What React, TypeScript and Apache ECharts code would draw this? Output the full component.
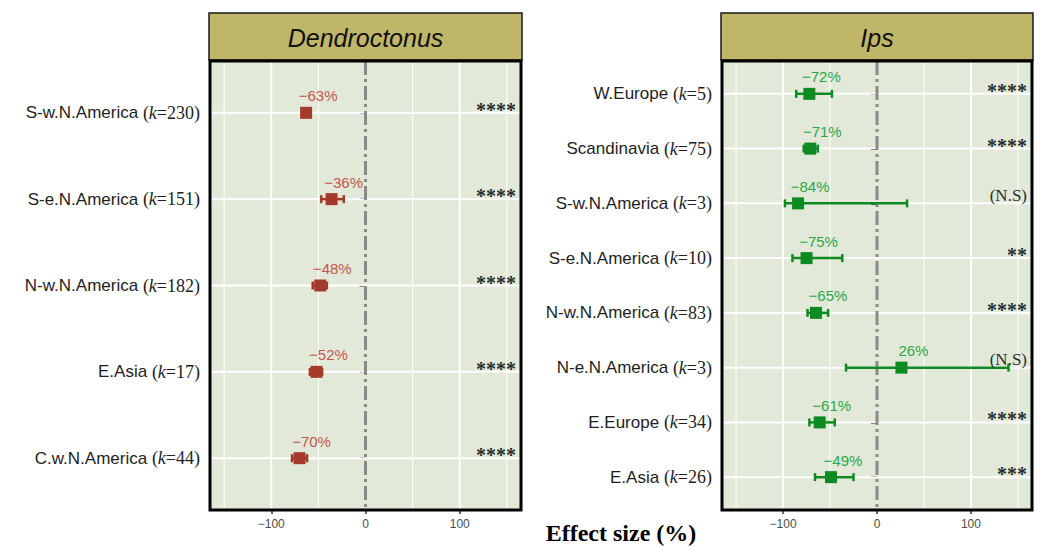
import React, { useEffect, useRef } from 'react';
import * as echarts from 'echarts';

// ---- Data ----
const dendroRegions = ['S-w.N.America', 'S-e.N.America', 'N-w.N.America', 'E.Asia', 'C.w.N.America'];
const dendroK = [230, 151, 182, 17, 44];
const dendroMean = [-63, -36, -48, -52, -70];
const dendroLower = [-66, -47, -56, -59, -78];
const dendroUpper = [-60, -23, -41, -46, -62];
const dendroSig = ['****', '****', '****', '****', '****'];

const ipsRegions = ['W.Europe', 'Scandinavia', 'S-w.N.America', 'S-e.N.America', 'N-w.N.America', 'N-e.N.America', 'E.Europe', 'E.Asia'];
const ipsK = [5, 75, 3, 10, 83, 3, 34, 26];
const ipsMean = [-72, -71, -84, -75, -65, 26, -61, -49];
const ipsLower = [-86, -78, -98, -90, -74, -33, -72, -66];
const ipsUpper = [-48, -63, 32, -37, -52, 140, -45, -25];
const ipsSig = ['****', '****', '(N.S)', '**', '****', '(N.S)', '****', '***'];

const xTickValues = [-100, 0, 100];
const xMinorValues = [-150, -50, 50, 150];
const X_MIN = -165;
const X_MAX = 165;

const panelTitles = ['Dendroctonus', 'Ips'];
const axisTitle = 'Effect size (%)';

// ---- Layout ----
const GRIDS = [
  { left: 210, top: 61, width: 311, height: 449 },
  { left: 722, top: 61, width: 310, height: 449 },
];
const HEADER_TOP = 13;
const HEADER_H = 47;

const fmtPct = (v: number) => (v < 0 ? '\u2212' + Math.abs(v) : String(v)) + '%';
const fmtTick = (v: number) => (v < 0 ? '\u2212' + Math.abs(v) : String(v));

function buildPanel(
  idx: number,
  regions: string[],
  ks: number[],
  mean: number[],
  lower: number[],
  upper: number[],
  sig: string[],
  markerColor: string,
  labelColor: string
) {
  const n = regions.length;
  const positions = regions.map((_, i) => i + 1);
  const xAxis = {
    type: 'value',
    gridIndex: idx,
    min: X_MIN,
    max: X_MAX,
    axisLine: { show: false },
    splitLine: { show: false },
    axisTick: {
      show: true,
      customValues: xTickValues,
      length: 4,
      lineStyle: { color: '#333', width: 1.5 },
    },
    axisLabel: {
      customValues: xTickValues,
      formatter: (v: number) => fmtTick(v),
      fontFamily: 'Liberation Sans',
      fontSize: 12,
      color: '#4d4d4d',
      margin: 8,
    },
  };
  const yAxis = {
    type: 'value',
    gridIndex: idx,
    min: 0.4,
    max: n + 0.6,
    inverse: true,
    axisLine: { show: false },
    splitLine: { show: false },
    axisTick: {
      show: true,
      customValues: positions,
      length: 6,
      lineStyle: { color: '#111', width: 2 },
    },
    axisLabel: {
      customValues: positions,
      margin: 10,
      formatter: (v: number) => {
        const i = Math.round(v) - 1;
        if (i < 0 || i >= n) return '';
        return `{r|${regions[i]} }{p|(}{k|k}{p|=${ks[i]})}`;
      },
      rich: {
        r: { fontFamily: 'Liberation Sans', fontSize: 17, color: '#1e1e1e' },
        p: { fontFamily: 'Liberation Serif', fontSize: 18, color: '#1e1e1e' },
        k: { fontFamily: 'Liberation Serif', fontSize: 18, fontStyle: 'italic', color: '#1e1e1e' },
      },
    },
  };

  const gridSeries = {
    type: 'custom',
    xAxisIndex: idx,
    yAxisIndex: idx,
    z: 1,
    silent: true,
    clip: true,
    data: [[0, 1]],
    renderItem: (params: any, api: any) => {
      const cs = params.coordSys;
      const children: any[] = [];
      xMinorValues.forEach((v) => {
        const x = api.coord([v, 1])[0];
        children.push({
          type: 'line',
          shape: { x1: x, y1: cs.y, x2: x, y2: cs.y + cs.height },
          style: { stroke: '#ffffff', lineWidth: 1 },
        });
      });
      xTickValues.forEach((v) => {
        if (v === 0) return;
        const x = api.coord([v, 1])[0];
        children.push({
          type: 'line',
          shape: { x1: x, y1: cs.y, x2: x, y2: cs.y + cs.height },
          style: { stroke: '#ffffff', lineWidth: 2 },
        });
      });
      positions.forEach((p) => {
        const y = api.coord([0, p])[1];
        children.push({
          type: 'line',
          shape: { x1: cs.x, y1: y, x2: cs.x + cs.width, y2: y },
          style: { stroke: '#ffffff', lineWidth: 2 },
        });
      });
      const x0 = api.coord([0, 1])[0];
      children.push({
        type: 'line',
        shape: { x1: x0, y1: cs.y, x2: x0, y2: cs.y + cs.height },
        style: { stroke: '#8a8a8a', lineWidth: 3, lineDash: [14, 4, 3, 4] },
      });
      return { type: 'group', children };
    },
  };

  const dataSeries = {
    type: 'custom',
    xAxisIndex: idx,
    yAxisIndex: idx,
    z: 5,
    clip: false,
    silent: true,
    data: mean.map((m, i) => [m, i + 1, lower[i], upper[i], i]),
    renderItem: (params: any, api: any) => {
      const cs = params.coordSys;
      const m = api.value(0);
      const y = api.value(1);
      const lo = api.value(2);
      const hi = api.value(3);
      const i = api.value(4);
      const p = api.coord([m, y]);
      const pl = api.coord([lo, y]);
      const ph = api.coord([hi, y]);
      const cap = 4;
      const sq = 12;
      const children: any[] = [
        {
          type: 'line',
          shape: { x1: pl[0], y1: p[1], x2: ph[0], y2: p[1] },
          style: { stroke: markerColor, lineWidth: 2.5 },
        },
        {
          type: 'line',
          shape: { x1: pl[0], y1: p[1] - cap, x2: pl[0], y2: p[1] + cap },
          style: { stroke: markerColor, lineWidth: 2.5 },
        },
        {
          type: 'line',
          shape: { x1: ph[0], y1: p[1] - cap, x2: ph[0], y2: p[1] + cap },
          style: { stroke: markerColor, lineWidth: 2.5 },
        },
        {
          type: 'rect',
          shape: { x: p[0] - sq / 2, y: p[1] - sq / 2, width: sq, height: sq },
          style: { fill: markerColor },
        },
        {
          type: 'text',
          x: p[0] + 12,
          y: p[1] - 17,
          style: {
            text: fmtPct(m),
            fill: labelColor,
            font: '15px "Liberation Sans", Arial, sans-serif',
            align: 'center',
            verticalAlign: 'middle',
          },
        },
      ];
      const s = sig[i];
      const isStars = s.indexOf('*') === 0;
      children.push({
        type: 'text',
        x: cs.x + cs.width - 5,
        y: isStars ? p[1] - 3 : p[1] - 8,
        style: {
          text: s,
          fill: '#253030',
          font: isStars ? 'bold 20px "Liberation Serif", serif' : '17px "Liberation Serif", serif',
          align: 'right',
          verticalAlign: 'middle',
        },
      });
      return { type: 'group', children };
    },
  };

  return { xAxis, yAxis, series: [gridSeries, dataSeries] };
}

export default function App() {
  const ref = useRef<HTMLDivElement>(null);
  useEffect(() => {
    if (!ref.current) return;
    const chart = echarts.init(ref.current, undefined, { renderer: 'svg' });
    const left = buildPanel(0, dendroRegions, dendroK, dendroMean, dendroLower, dendroUpper, dendroSig, '#a33a2a', '#c2564c');
    const right = buildPanel(1, ipsRegions, ipsK, ipsMean, ipsLower, ipsUpper, ipsSig, '#0d8a22', '#2aa848');

    const graphics: any[] = [];
    GRIDS.forEach((g, i) => {
      graphics.push({
        type: 'rect',
        z: 100,
        silent: true,
        shape: { x: g.left - 1, y: HEADER_TOP, width: g.width + 2, height: HEADER_H },
        style: { fill: '#bfb66a', stroke: '#1a1a1a', lineWidth: 1.5 },
      });
      graphics.push({
        type: 'text',
        z: 101,
        silent: true,
        x: g.left + g.width / 2,
        y: HEADER_TOP + HEADER_H / 2 + 1,
        style: {
          text: panelTitles[i],
          fill: '#111',
          font: 'italic 25px "Liberation Sans", Arial, sans-serif',
          align: 'center',
          verticalAlign: 'middle',
        },
      });
      graphics.push({
        type: 'rect',
        z: 100,
        silent: true,
        shape: { x: g.left, y: g.top, width: g.width, height: g.height },
        style: { fill: 'none', stroke: '#000', lineWidth: 3 },
      });
    });
    graphics.push({
      type: 'text',
      z: 101,
      silent: true,
      x: 621,
      y: 533,
      style: {
        text: axisTitle,
        fill: '#000',
        font: 'bold 24px "Liberation Serif", "Times New Roman", serif',
        align: 'center',
        verticalAlign: 'middle',
      },
    });

    chart.setOption({
      animation: false,
      backgroundColor: '#ffffff',
      grid: GRIDS.map((g) => ({
        left: g.left,
        top: g.top,
        width: g.width,
        height: g.height,
        show: true,
        backgroundColor: '#e3e9d9',
        borderWidth: 0,
        containLabel: false,
      })),
      xAxis: [left.xAxis, right.xAxis],
      yAxis: [left.yAxis, right.yAxis],
      series: [...left.series, ...right.series],
      graphic: graphics,
    } as any);
    return () => chart.dispose();
  }, []);
  return (
    <div
      ref={ref}
      style={{ position: 'fixed', left: 0, top: 0, width: 1040, height: 547 }}
    />
  );
}
